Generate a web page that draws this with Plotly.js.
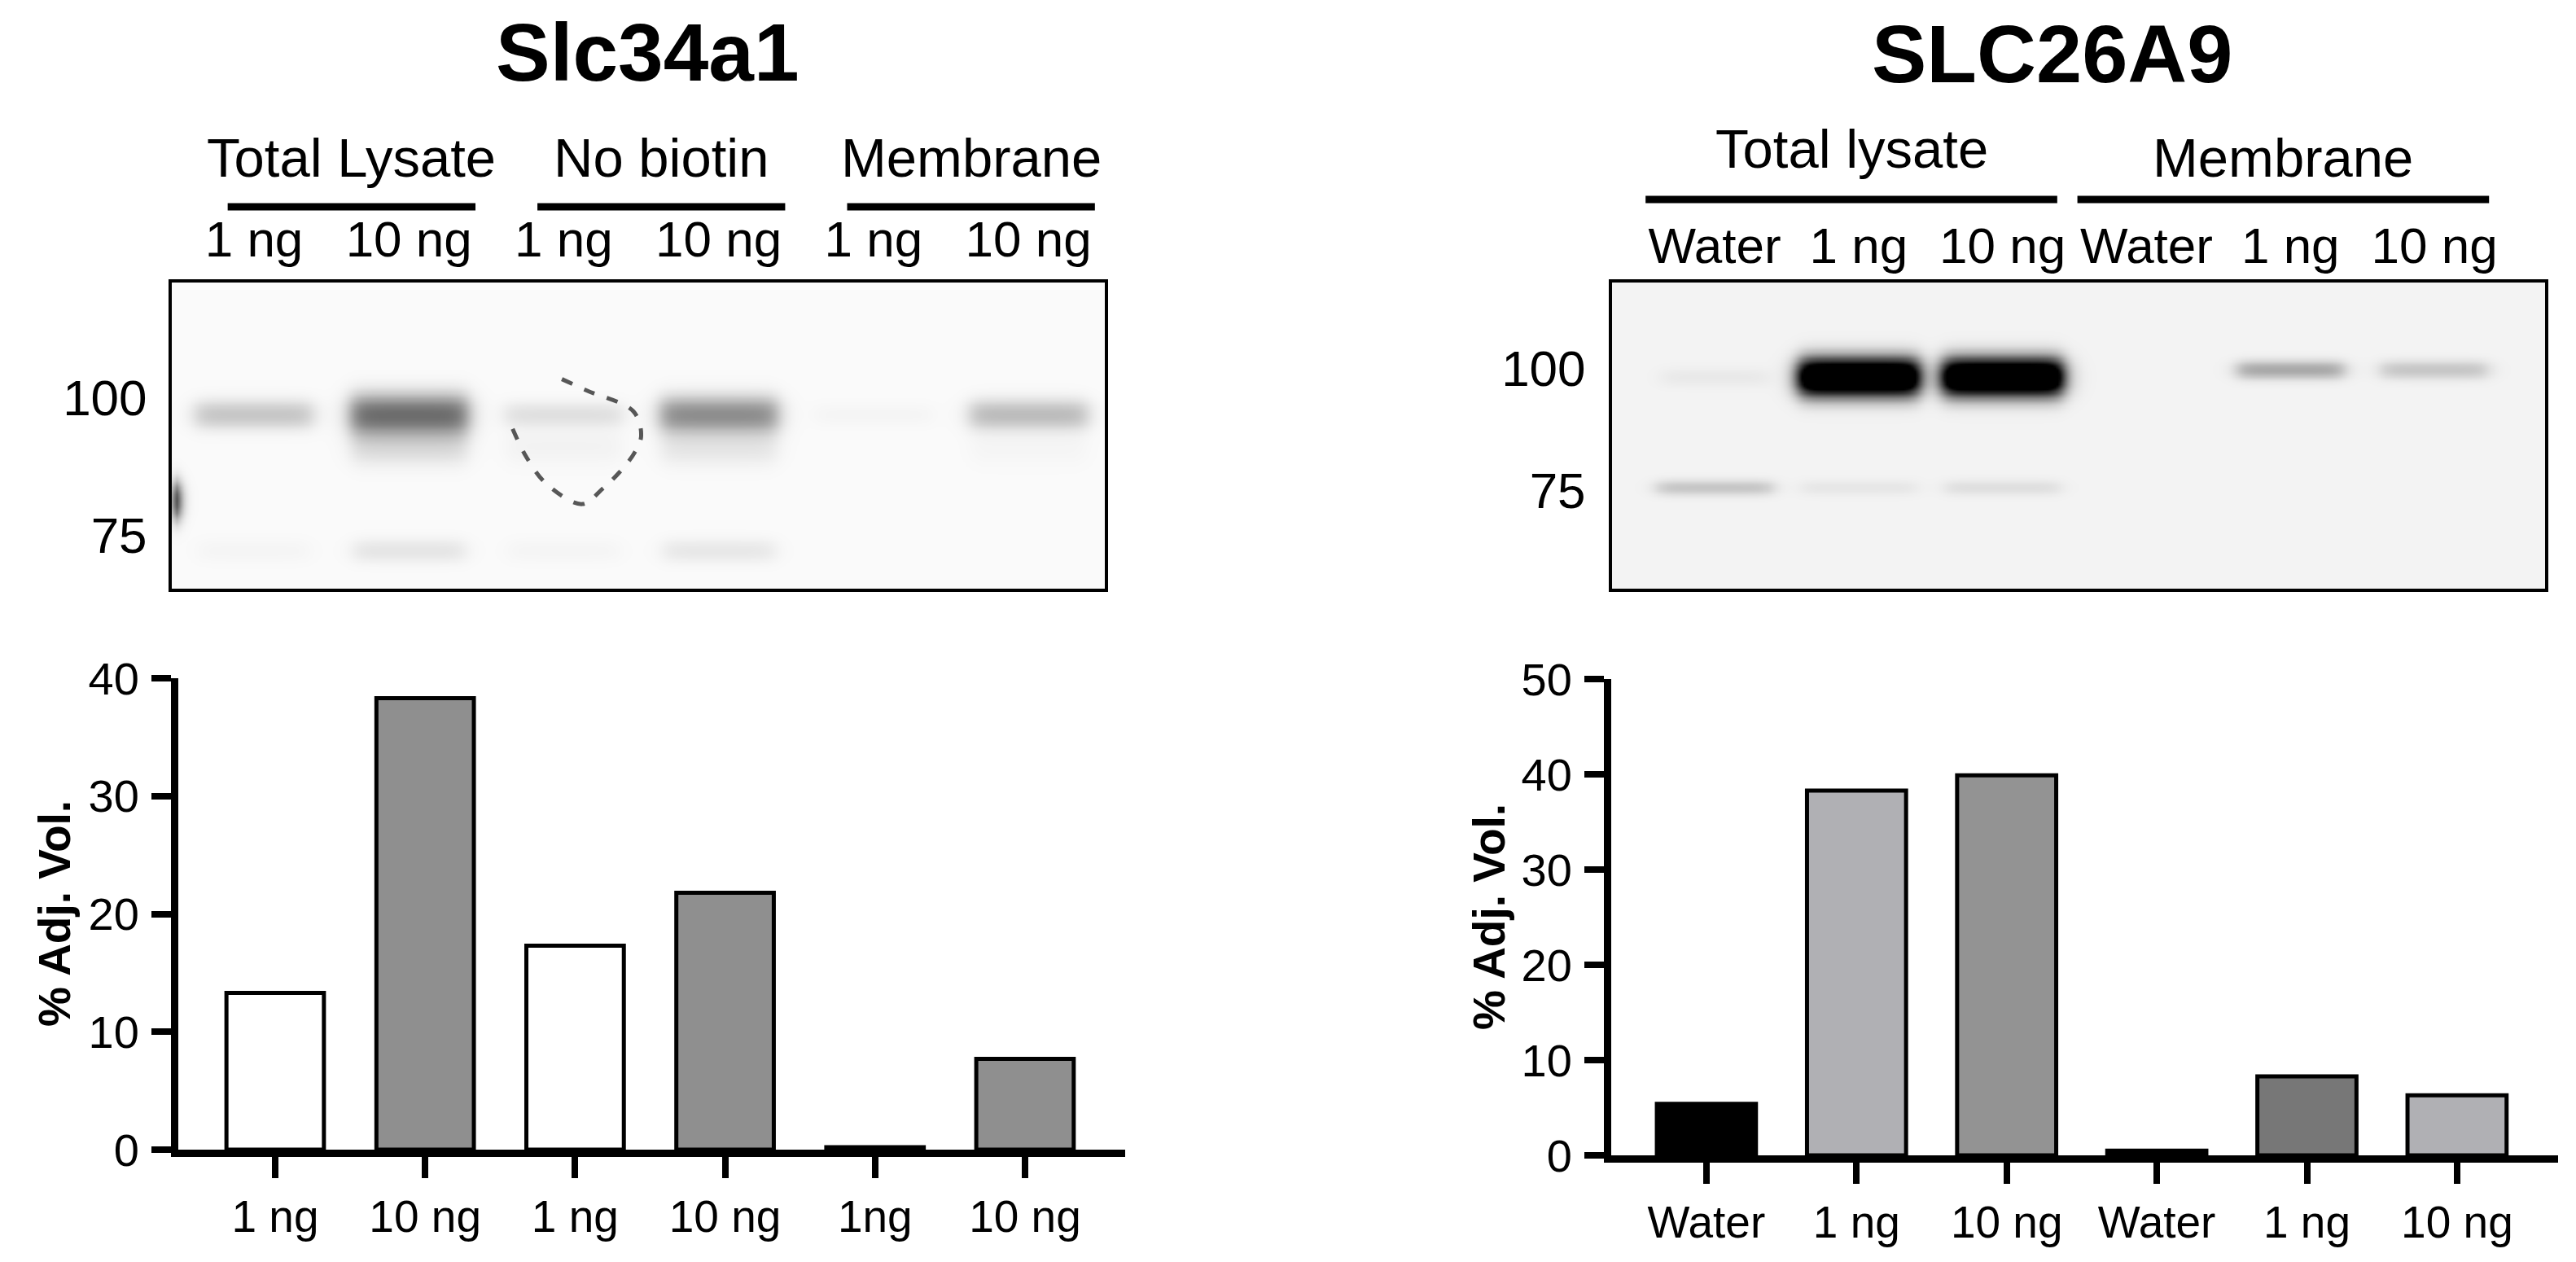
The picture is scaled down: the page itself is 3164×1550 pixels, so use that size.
<!DOCTYPE html>
<html>
<head>
<meta charset="utf-8">
<script src="https://cdn.plot.ly/plotly-3.0.1.min.js"></script>
<style>html,body{margin:0;padding:0;background:#fff;}#chart{width:3164px;height:1550px;}</style>
</head>
<body>
<div id="chart"></div>
<script>
// ---------- DATA ----------
// Slc34a1 panel
const slcTitle = 'Slc34a1';
const slcGroups = ['Total Lysate', 'No biotin', 'Membrane'];
const slcGroupLanes = [[0, 1], [2, 3], [4, 5]];
const slcLanes = ['1 ng', '10 ng', '1 ng', '10 ng', '1 ng', '10 ng'];
const slcBarLabels = ['1 ng', '10 ng', '1 ng', '10 ng', '1ng', '10 ng'];
const slcAdjVol = [13.3, 38.3, 17.3, 21.8, 0.2, 7.7];
const slcBarColors = ['#ffffff', '#8f8f8f', '#ffffff', '#8f8f8f', '#ffffff', '#8f8f8f'];
const slcMarkers = [100, 75];
const slcBand100 = [0.20, 0.55, 0.10, 0.42, 0.02, 0.24];   // darkness of ~96 kDa band per lane
const slcBand75 = [0.02, 0.08, 0.02, 0.07, 0.00, 0.00];     // darkness of ~73 kDa band per lane
const slcSmear = [0.00, 0.12, 0.03, 0.08, 0.00, 0.02];      // smear just below main band
const slcBandMw = [96.5, 72.6, 90.3];                       // apparent MW of band rows (kDa)
const slcArtifactLane = [1.67, 1.76, 1.89, 2.12, 2.25, 2.36, 2.46, 2.50, 2.45, 2.15, 1.98];
const slcArtifactMw = [93.6, 88.2, 83.4, 80.0, 82.6, 85.5, 89.2, 92.3, 97.1, 101.4, 104.0];
const slcEdgeSpotLane = [-0.50];
const slcEdgeSpotMw = [80.6];
const slcEdgeSpotDark = [0.9];

// SLC26A9 panel
const slaTitle = 'SLC26A9';
const slaGroups = ['Total lysate', 'Membrane'];
const slaGroupLanes = [[0, 2], [3, 5]];
const slaLanes = ['Water', '1 ng', '10 ng', 'Water', '1 ng', '10 ng'];
const slaBarLabels = ['Water', '1 ng', '10 ng', 'Water', '1 ng', '10 ng'];
const slaAdjVol = [5.4, 38.3, 39.9, 0.5, 8.3, 6.3];
const slaBarColors = ['#000000', '#b0b0b4', '#939393', '#000000', '#777777', '#b0b0b4'];
const slaMarkers = [100, 75];
const slaBand100 = [0.04, 1.50, 1.50, 0.00, 0.30, 0.18];
const slaBand100Mw = [97.9, 97.9, 97.9, 99.6, 99.6, 99.6];
const slaBand75 = [0.18, 0.05, 0.08, 0.00, 0.00, 0.00];
const slaBand75Mw = [75.5, 75.5, 75.5, 75.5, 75.5, 75.5];

const yTitle = '% Adj. Vol.';

// ---------- HELPERS (layout only) ----------
const W = 3164, H = 1550;
const fx = p => p / W;
const fy = p => 1 - p / H;
const idx = arr => arr.map((_, i) => i);
const FONT = 'Liberation Sans, Arial, sans-serif';

function blotGrid(xr, logr, bands) {
  const nx = 380, ny = 170;
  const xs = [], ys = [], z = [];
  for (let i = 0; i < nx; i++) xs.push(xr[0] + (xr[1] - xr[0]) * i / (nx - 1));
  for (let j = 0; j < ny; j++) ys.push(Math.pow(10, logr[0] + (logr[1] - logr[0]) * j / (ny - 1)));
  for (let j = 0; j < ny; j++) {
    const ly = Math.log10(ys[j]);
    const row = [];
    for (let i = 0; i < nx; i++) {
      let v = 0;
      for (const b of bands) {
        if (!b.v) continue;
        const dx = Math.abs(xs[i] - b.lane);
        const fxv = 1 / (1 + Math.exp((dx - b.hw) / (b.sx || 0.035)));
        const dy = (ly - Math.log10(b.mw)) / b.h;
        const fyv = Math.exp(-Math.pow(Math.abs(dy), 2.2));
        v += b.v * fxv * fyv;
      }
      row.push(Math.min(v, 1));
    }
    z.push(row);
  }
  return {xs, ys, z};
}

// Slc34a1 blot geometry
const slcXr = [-0.531, 5.494];
const slcLogR = [1.8263, 2.1042];
const slcBands = [];
slcBand100.forEach((v, i) => slcBands.push({lane: i, v: v, mw: slcBandMw[0], hw: 0.38, h: 0.010 + 0.016 * v}));
slcBand75.forEach((v, i) => slcBands.push({lane: i, v: v, mw: slcBandMw[1], hw: 0.36, h: 0.011}));
slcSmear.forEach((v, i) => slcBands.push({lane: i, v: v, mw: slcBandMw[2], hw: 0.37, h: 0.017}));
slcEdgeSpotLane.forEach((l, i) => slcBands.push({lane: l, v: slcEdgeSpotDark[i], mw: slcEdgeSpotMw[i], hw: 0.02, sx: 0.02, h: 0.018}));
const slcGrid = blotGrid(slcXr, slcLogR, slcBands);

// SLC26A9 blot geometry
const slaXr = [-0.713, 5.769];
const slaLogR = [1.7744, 2.0874];
const slaBands = [];
slaBand100.forEach((v, i) => slaBands.push({lane: i, v: v, mw: slaBand100Mw[i], hw: v > 1 ? 0.42 : 0.37, h: v > 1 ? 0.02 : 0.0095}));
slaBand75.forEach((v, i) => slaBands.push({lane: i, v: v, mw: slaBand75Mw[i], hw: 0.40, h: 0.008}));
const slaGrid = blotGrid(slaXr, slaLogR, slaBands);

const slcScale = [[0, '#fafafa'], [0.5, '#7a7a7a'], [1, '#000000']];
const slaScale = [[0, '#f3f3f3'], [0.5, '#777777'], [1, '#000000']];

// ---------- TRACES ----------
const traces = [
  {
    type: 'bar', x: idx(slcAdjVol), y: slcAdjVol, xaxis: 'x', yaxis: 'y',
    width: 0.65, marker: {color: slcBarColors, line: {color: '#000', width: 5}},
    hoverinfo: 'y', showlegend: false
  },
  {
    type: 'bar', x: idx(slaAdjVol), y: slaAdjVol, xaxis: 'x2', yaxis: 'y2',
    width: 0.66, marker: {color: slaBarColors, line: {color: '#000', width: 5}},
    hoverinfo: 'y', showlegend: false
  },
  {
    type: 'heatmap', x: slcGrid.xs, y: slcGrid.ys, z: slcGrid.z, xaxis: 'x3', yaxis: 'y3',
    colorscale: slcScale, zmin: 0, zmax: 1, showscale: false, zsmooth: 'best', hoverinfo: 'skip'
  },
  {
    type: 'scatter', mode: 'lines', x: slcArtifactLane, y: slcArtifactMw, xaxis: 'x3', yaxis: 'y3',
    line: {color: '#2e2e2e', width: 5, dash: '14px,16px', shape: 'spline'}, opacity: 0.8,
    hoverinfo: 'skip', showlegend: false
  },
  {
    type: 'heatmap', x: slaGrid.xs, y: slaGrid.ys, z: slaGrid.z, xaxis: 'x4', yaxis: 'y4',
    colorscale: slaScale, zmin: 0, zmax: 1, showscale: false, zsmooth: 'best', hoverinfo: 'skip'
  }
];

// ---------- AXES ----------
function barX(domain, range, labels, anchor) {
  return {
    domain: domain, range: range, anchor: anchor, tickmode: 'array', tickvals: idx(labels), ticktext: labels,
    ticks: 'outside', ticklen: 26, tickwidth: 8, tickcolor: '#000', showline: true, linewidth: 9, linecolor: '#000',
    showgrid: false, zeroline: false, tickfont: {family: FONT, size: 55, color: '#000'}, ticklabelstandoff: 0,
    fixedrange: true
  };
}
function barY(domain, range, anchor) {
  return {
    domain: domain, range: range, dtick: 10, anchor: anchor,
    ticks: 'outside', ticklen: 24, tickwidth: 8, tickcolor: '#000', showline: true, linewidth: 9, linecolor: '#000',
    showgrid: false, zeroline: false, tickfont: {family: FONT, size: 56, color: '#000'}, ticklabelstandoff: 4,
    fixedrange: true
  };
}
function blotX(domain, range, labels, anchor, standoff) {
  return {
    domain: domain, range: range, side: 'top', anchor: anchor, tickmode: 'array', tickvals: idx(labels), ticktext: labels,
    ticks: '', showline: true, mirror: true, linewidth: 4, linecolor: '#000', showgrid: false, zeroline: false,
    tickfont: {family: FONT, size: 62, color: '#000'}, ticklabelstandoff: standoff, fixedrange: true
  };
}
function blotY(domain, range, markers, anchor, standoff) {
  return {
    domain: domain, type: 'log', range: range, anchor: anchor, tickmode: 'array', tickvals: markers,
    ticktext: markers.map(String), ticks: '', showline: true, mirror: true, linewidth: 4, linecolor: '#000',
    showgrid: false, zeroline: false, tickfont: {family: FONT, size: 62, color: '#000'}, ticklabelstandoff: standoff,
    fixedrange: true
  };
}

// ---------- ANNOTATIONS & SHAPES ----------
const annotations = [
  {text: '<b>' + slcTitle + '</b>', xref: 'paper', yref: 'paper', x: fx(795), y: fy(64), showarrow: false,
   xanchor: 'center', yanchor: 'middle', font: {family: FONT, size: 100, color: '#000'}},
  {text: '<b>' + slaTitle + '</b>', xref: 'paper', yref: 'paper', x: fx(2520), y: fy(66), showarrow: false,
   xanchor: 'center', yanchor: 'middle', font: {family: FONT, size: 101, color: '#000'}},
  {text: '<b>' + yTitle + '</b>', xref: 'paper', yref: 'paper', x: fx(67), y: fy(1122), showarrow: false,
   textangle: -90, xanchor: 'center', yanchor: 'middle', font: {family: FONT, size: 55, color: '#000'}},
  {text: '<b>' + yTitle + '</b>', xref: 'paper', yref: 'paper', x: fx(1829), y: fy(1126), showarrow: false,
   textangle: -90, xanchor: 'center', yanchor: 'middle', font: {family: FONT, size: 55, color: '#000'}}
];
const shapes = [];
slcGroups.forEach((g, k) => {
  const [a, b] = slcGroupLanes[k];
  const mid = (a + b) / 2 + 0.13;
  annotations.push({text: g, xref: 'x3', yref: 'paper', x: mid, y: fy(193), showarrow: false,
    xanchor: 'center', yanchor: 'middle', font: {family: FONT, size: 67, color: '#000'}});
  shapes.push({type: 'line', xref: 'x3', yref: 'paper', x0: mid - 0.8, x1: mid + 0.8, y0: fy(254), y1: fy(254),
    line: {color: '#000', width: 9}});
});
slaGroups.forEach((g, k) => {
  const [a, b] = slaGroupLanes[k];
  const mid = (a + b) / 2 - 0.05;
  annotations.push({text: g, xref: 'x4', yref: 'paper', x: mid, y: fy(k === 0 ? 183 : 194), showarrow: false,
    xanchor: 'center', yanchor: 'middle', font: {family: FONT, size: 67, color: '#000'}});
  shapes.push({type: 'line', xref: 'x4', yref: 'paper', x0: mid - 1.43, x1: mid + 1.43, y0: fy(245), y1: fy(245),
    line: {color: '#000', width: 9}});
});

const layout = {
  width: W, height: H, margin: {l: 0, r: 0, t: 0, b: 0}, paper_bgcolor: '#fff', plot_bgcolor: 'rgba(0,0,0,0)',
  showlegend: false, bargap: 0,
  xaxis: barX([fx(219), fx(1382)], [-0.646, 5.668], slcBarLabels, 'y'),
  yaxis: barY([fy(1412), fy(833)], [0, 40], 'x'),
  xaxis2: barX([fx(1979), fx(3142)], [-0.634, 5.673], slaBarLabels, 'y2'),
  yaxis2: barY([fy(1419), fy(834)], [0, 50], 'x2'),
  xaxis3: blotX([fx(211), fx(1357)], slcXr, slcLanes, 'y3', 3),
  yaxis3: blotY([fy(723), fy(347)], slcLogR, slcMarkers, 'x3', 14),
  xaxis4: blotX([fx(1980), fx(3126)], slaXr, slaLanes, 'y4', -5),
  yaxis4: blotY([fy(723), fy(347)], slaLogR, slaMarkers, 'x4', 16),
  annotations: annotations, shapes: shapes
};

Plotly.newPlot('chart', traces, layout, {staticPlot: true, displayModeBar: false});
</script>
</body>
</html>
